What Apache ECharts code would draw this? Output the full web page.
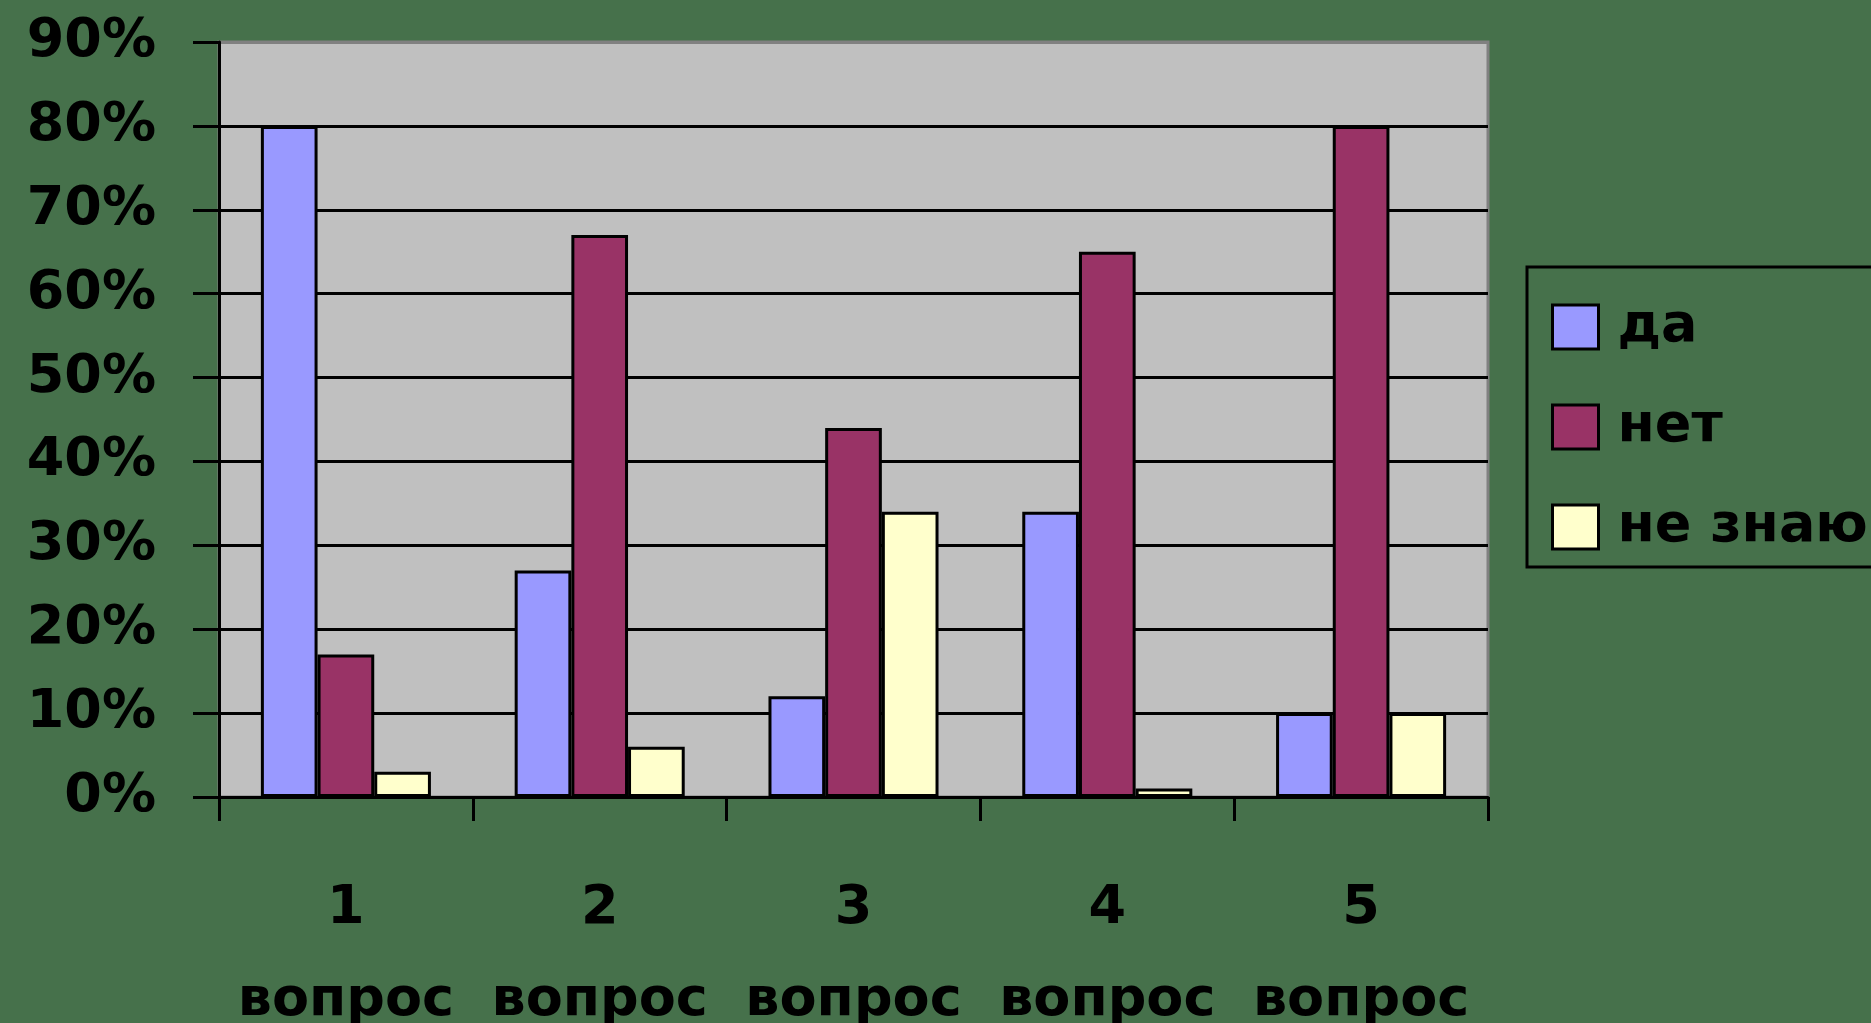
<!DOCTYPE html>
<html>
<head>
<meta charset="utf-8">
<script src="https://cdn.jsdelivr.net/npm/echarts@6/dist/echarts.min.js"></script>
<style>
html,body{margin:0;padding:0;background:#46714B;}
#chart{width:1871px;height:1023px;}
</style>
</head>
<body>
<div id="chart"></div>
<script>
const categories = ['1\nвопрос', '2\nвопрос', '3\nвопрос', '4\nвопрос', '5\nвопрос'];
const seriesNames = ['да', 'нет', 'не знаю'];
const valuesDa = [80, 27, 12, 34, 10];
const valuesNet = [17, 67, 44, 65, 80];
const valuesNeZnayu = [3, 6, 34, 1, 10];
const yTicks = { min: 0, max: 90, interval: 10 };

const FONT = 'DejaVu Sans';
const WEIGHT = 'bold';
const colors = ['#9999FF', '#993366', '#FFFFCC'];
const splitColors = [];
for (let v = yTicks.min; v <= yTicks.max; v += yTicks.interval) {
  splitColors.push(v === yTicks.max ? '#808080' : '#000000');
}

const chart = echarts.init(document.getElementById('chart'), null, { renderer: 'canvas' });
const barCommon = {
  type: 'bar',
  barGap: '0%',
  barCategoryGap: '33%',
  itemStyle: { borderColor: '#000', borderWidth: 3 },
  emphasis: { disabled: true },
  animation: false
};
chart.setOption({
  backgroundColor: '#46714B',
  animation: false,
  color: colors,
  grid: {
    left: 219, right: 383, top: 42, bottom: 226,
    containLabel: false,
    outerBoundsMode: 'none',
    show: true, backgroundColor: '#C0C0C0', borderColor: '#808080', borderWidth: 3
  },
  legend: {
    orient: 'vertical',
    left: 1527, top: 267,
    padding: [32, 40, 12, 24],
    borderColor: '#000', borderWidth: 3,
    backgroundColor: '#46714B',
    itemWidth: 46, itemHeight: 44, itemGap: 44,
    icon: 'rect',
    itemStyle: { borderColor: '#000', borderWidth: 3 },
    textStyle: { fontFamily: FONT, fontWeight: WEIGHT, fontSize: 54, color: '#000', lineHeight: 44, padding: [12, 0, 0, 14] },
    data: seriesNames
  },
  xAxis: {
    type: 'category',
    data: categories,
    axisLine: { show: true, lineStyle: { color: '#000', width: 3 } },
    axisTick: { show: true, interval: 0, length: 24, lineStyle: { color: '#000', width: 3 } },
    axisLabel: { interval: 0, fontFamily: FONT, fontWeight: WEIGHT, fontSize: 54, color: '#000', lineHeight: 92, margin: 66 },
    splitLine: { show: false }
  },
  yAxis: {
    type: 'value',
    min: yTicks.min, max: yTicks.max, interval: yTicks.interval,
    axisLine: { show: true, lineStyle: { color: '#000', width: 3 } },
    axisTick: { show: true, length: 26, lineStyle: { color: '#000', width: 3 } },
    axisLabel: { fontFamily: FONT, fontWeight: WEIGHT, fontSize: 54, color: '#000', margin: 63, formatter: '{value}%' },
    splitLine: { show: true, lineStyle: { color: splitColors, width: 3 } }
  },
  series: [
    Object.assign({ name: seriesNames[0], data: valuesDa }, barCommon),
    Object.assign({ name: seriesNames[1], data: valuesNet }, barCommon),
    Object.assign({ name: seriesNames[2], data: valuesNeZnayu }, barCommon)
  ]
});
</script>
</body>
</html>
